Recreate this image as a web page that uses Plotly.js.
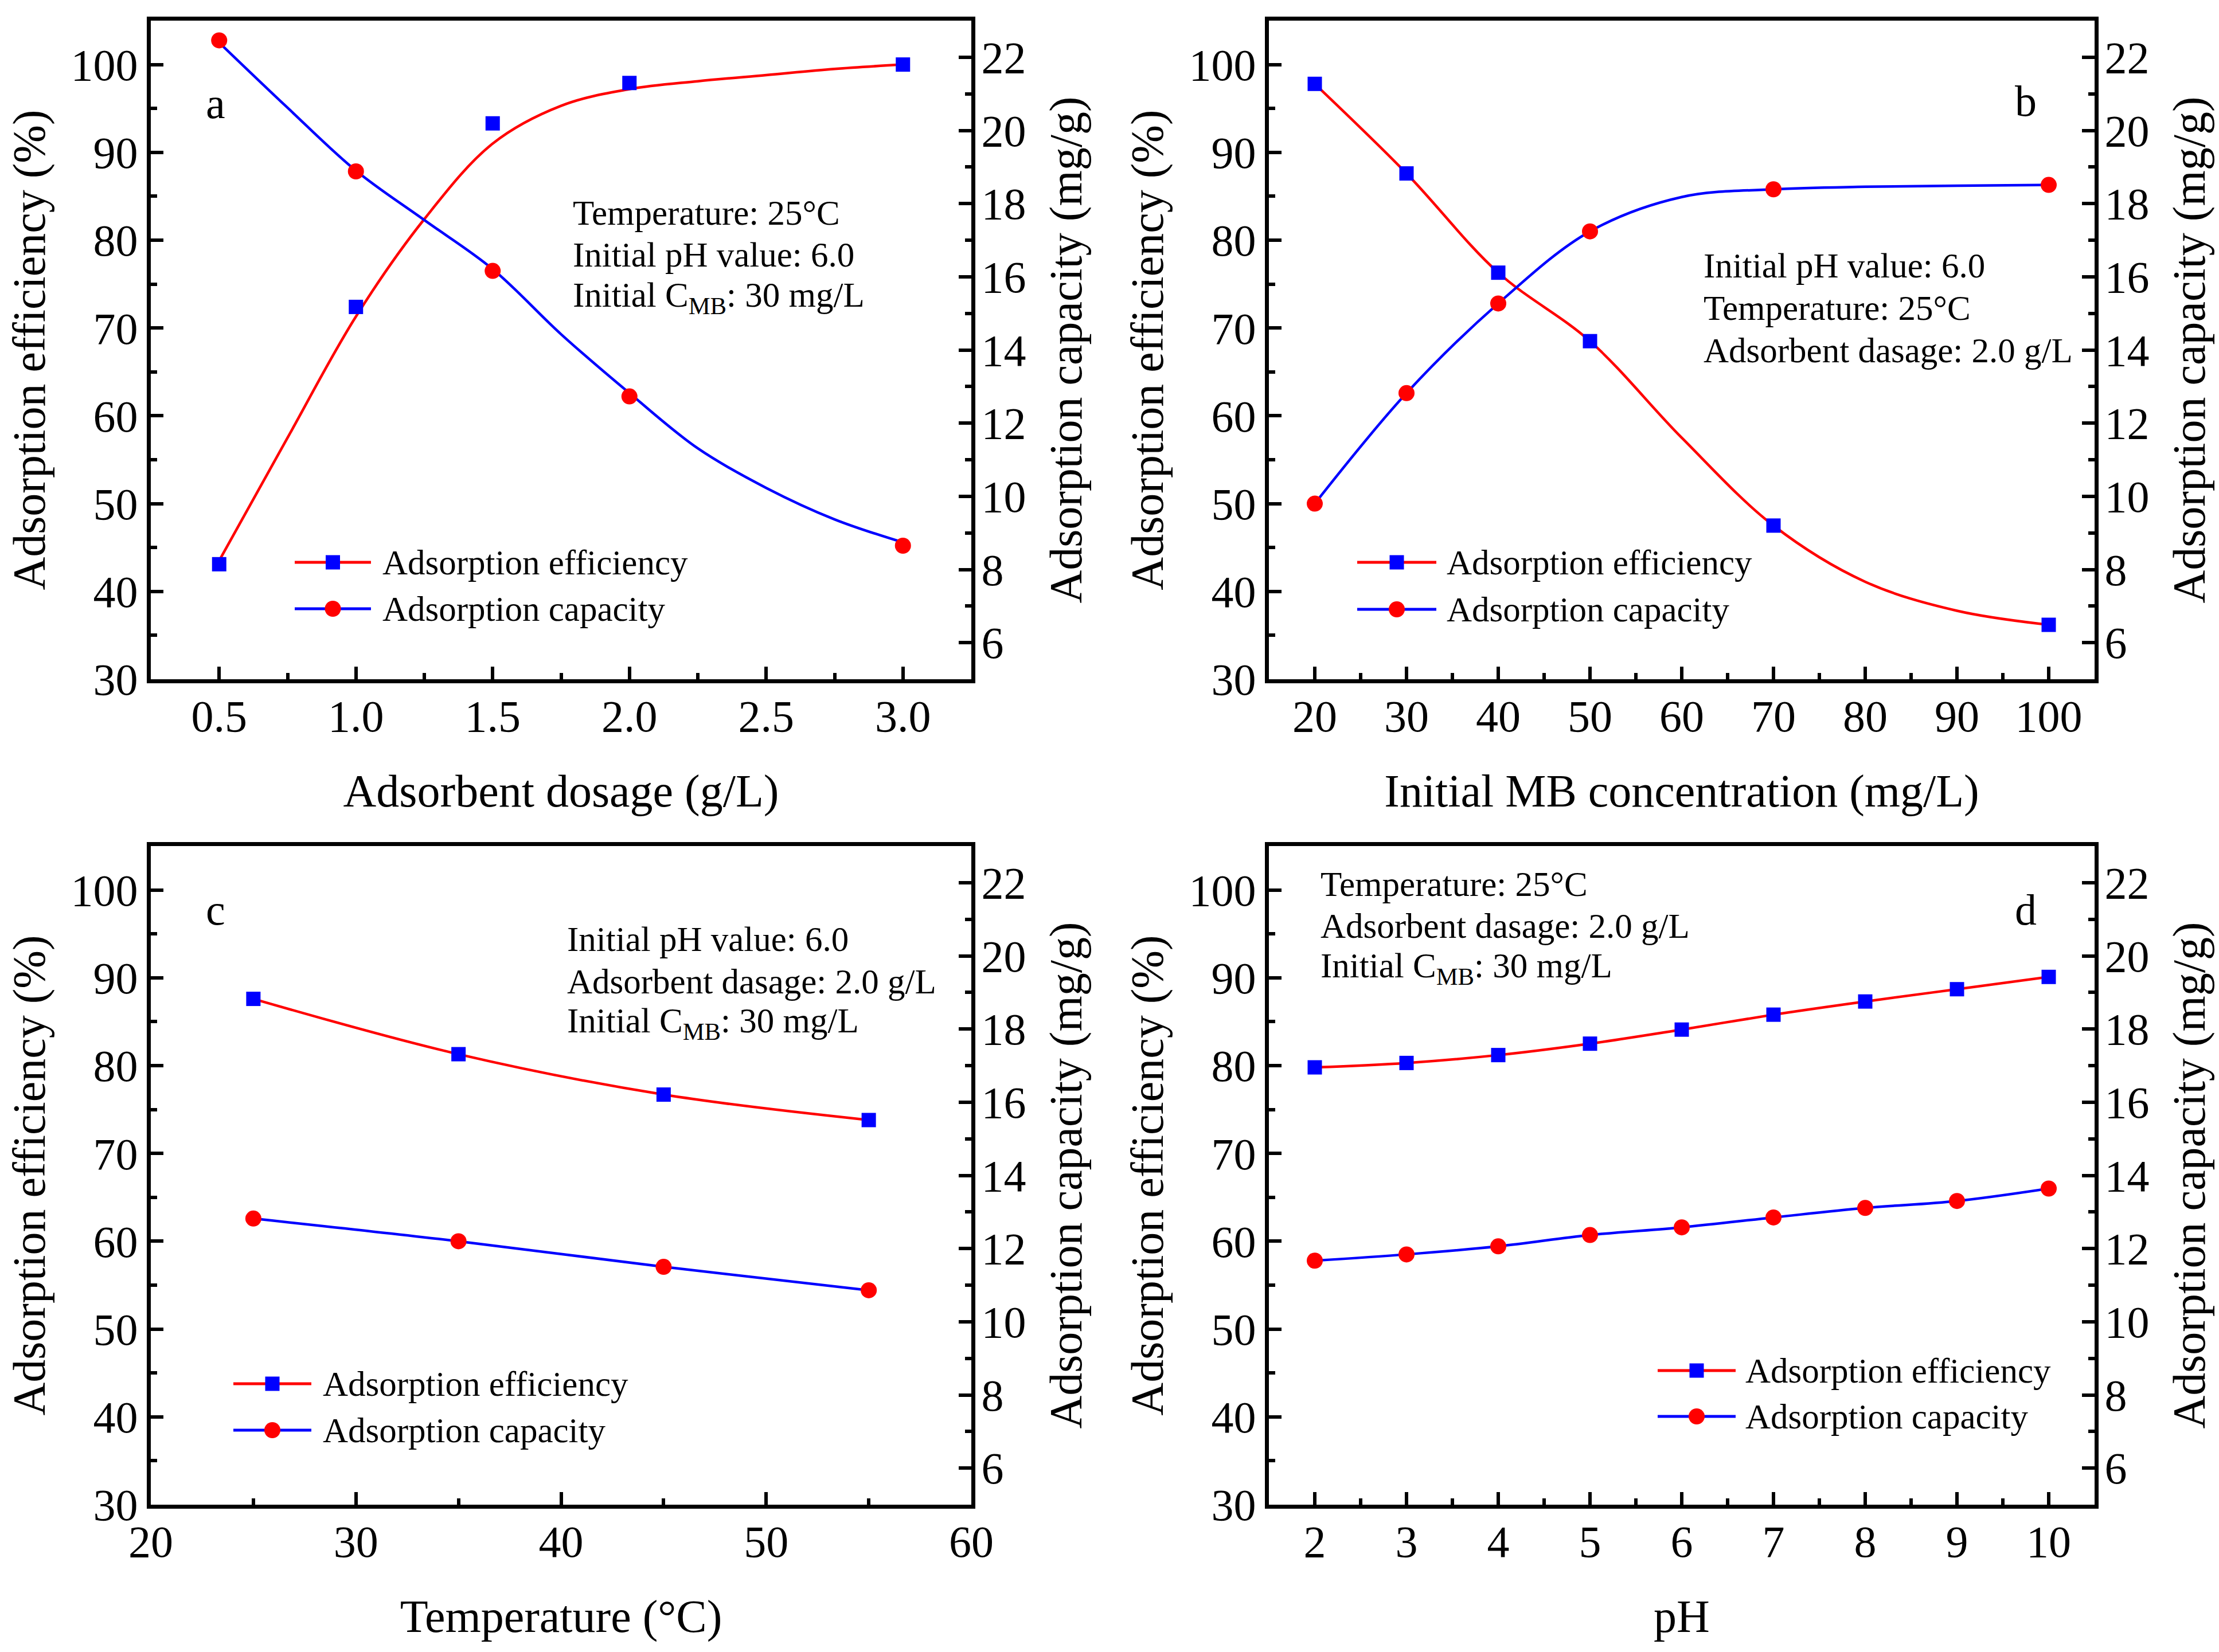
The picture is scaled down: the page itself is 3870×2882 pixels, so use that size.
<!DOCTYPE html>
<html>
<head>
<meta charset="utf-8">
<script src="https://cdn.plot.ly/plotly-3.0.1.min.js"></script>
<style>
  html, body { margin: 0; padding: 0; background: #fff; }
  #plot { width: 3870px; height: 2882px; }
</style>
</head>
<body>
<div id="plot"></div>
<script>
// (a) adsorbent dosage
var dosage = [0.5, 1.0, 1.5, 2.0, 3.0];
var effDosage = [43.1, 72.4, 93.3, 97.9, 100.0];
var capDosage = [22.46, 18.88, 16.16, 12.73, 8.65];
var dosageFitX = [0.5, 0.75, 1.0, 1.25, 1.5, 1.75, 2.0, 2.25, 2.5, 2.75, 3.0];
var effDosageFit = [43.5, 57.5, 71.3, 82.4, 91.0, 95.3, 97.2, 98.1, 98.8, 99.5, 100.0];
var capDosageFit = [22.40, 20.62, 18.90, 17.55, 16.21, 14.43, 12.82, 11.31, 10.23, 9.37, 8.74];

// (b) initial MB concentration
var conc = [20, 30, 40, 50, 70, 100];
var effConc = [97.8, 87.6, 76.3, 68.5, 47.5, 36.2];
var capConc = [9.80, 12.82, 15.27, 17.24, 18.39, 18.51];
var concFitX = [20, 30, 40, 50, 60, 70, 80, 90, 100];
var effConcFit = [97.8, 87.6, 76.3, 68.5, 57.5, 47.5, 41.1, 37.8, 36.2];
var capConcFit = [9.80, 12.82, 15.27, 17.24, 18.18, 18.39, 18.46, 18.49, 18.51];

// (c) temperature
var temp = [25, 35, 45, 55];
var effTemp = [87.6, 81.3, 76.7, 73.8];
var capTemp = [12.82, 12.20, 11.50, 10.86];

// (d) pH
var ph = [2, 3, 4, 5, 6, 7, 8, 9, 10];
var effPh = [79.8, 80.3, 81.2, 82.5, 84.1, 85.8, 87.3, 88.7, 90.1];
var capPh = [11.67, 11.84, 12.06, 12.37, 12.58, 12.85, 13.11, 13.30, 13.64];

var effName = 'Adsorption efficiency';
var capName = 'Adsorption capacity';

var W = 3870, H = 2882;
var FONT = 'Liberation Serif, Times New Roman, serif';
var RED = '#ff0000', BLUE = '#0000ff';

function px(x) { return x / W; }
function py(y) { return 1 - y / H; }

function fitLine(x, y, xa, ya, color) {
  return { x: x, y: y, xaxis: xa, yaxis: ya, mode: 'lines', type: 'scatter',
    line: { color: color, width: 4.5, shape: 'spline', smoothing: 1 }, showlegend: false, hoverinfo: 'skip' };
}
function points(x, y, xa, ya, symbol, color, size) {
  return { x: x, y: y, xaxis: xa, yaxis: ya, mode: 'markers', type: 'scatter',
    marker: { symbol: symbol, color: color, size: size }, showlegend: false };
}
function lineAndPoints(x, y, xa, ya, lineColor, symbol, color, size) {
  return { x: x, y: y, xaxis: xa, yaxis: ya, mode: 'lines+markers', type: 'scatter',
    line: { color: lineColor, width: 4.5, shape: 'spline', smoothing: 1 },
    marker: { symbol: symbol, color: color, size: size }, showlegend: false };
}

var data = [
  fitLine(dosageFitX, effDosageFit, 'x', 'y', RED),
  points(dosage, effDosage, 'x', 'y', 'square', BLUE, 25),
  fitLine(dosageFitX, capDosageFit, 'x', 'y2', BLUE),
  points(dosage, capDosage, 'x', 'y2', 'circle', RED, 28),

  fitLine(concFitX, effConcFit, 'x2', 'y3', RED),
  points(conc, effConc, 'x2', 'y3', 'square', BLUE, 25),
  fitLine(concFitX, capConcFit, 'x2', 'y4', BLUE),
  points(conc, capConc, 'x2', 'y4', 'circle', RED, 28),

  lineAndPoints(temp, effTemp, 'x3', 'y5', RED, 'square', BLUE, 25),
  lineAndPoints(temp, capTemp, 'x3', 'y6', BLUE, 'circle', RED, 28),

  lineAndPoints(ph, effPh, 'x4', 'y7', RED, 'square', BLUE, 25),
  lineAndPoints(ph, capPh, 'x4', 'y8', BLUE, 'circle', RED, 28)
];

function axisBase() {
  return {
    showline: true, linewidth: 7, linecolor: '#000',
    ticks: 'inside', ticklen: 22, tickwidth: 6, tickcolor: '#000',
    showgrid: false, zeroline: false, tickmode: 'linear', tick0: 0,
    tickfont: { family: FONT, size: 78, color: '#000' }
  };
}
function xAxis(domain, anchor, range, dtick, minor, title, fmt) {
  var a = axisBase();
  a.domain = domain; a.anchor = anchor; a.range = range; a.dtick = dtick;
  a.mirror = true;
  a.ticklabelstandoff = -10;
  a.minor = { dtick: minor, ticks: 'inside', ticklen: 11, tickwidth: 6, tickcolor: '#000', showgrid: false };
  a.title = { text: title, font: { family: FONT, size: 80, color: '#000' }, standoff: 62 };
  if (fmt) a.tickformat = fmt;
  return a;
}
function yLeft(domain, anchor) {
  var a = axisBase();
  a.domain = domain; a.anchor = anchor; a.range = [30, 105]; a.dtick = 10;
  a.mirror = true;
  a.ticklabelstandoff = 0;
  a.minor = { dtick: 5, ticks: 'inside', ticklen: 11, tickwidth: 6, tickcolor: '#000', showgrid: false };
  a.title = { text: 'Adsorption efficiency (%)', font: { family: FONT, size: 80, color: '#000' }, standoff: 21 };
  return a;
}
function yRight(domain, anchor, over) {
  var a = axisBase();
  a.domain = domain; a.anchor = anchor; a.overlaying = over; a.side = 'right';
  a.range = [5, 23]; a.dtick = 2;
  a.ticklabelstandoff = -5;
  a.minor = { dtick: 1, ticks: 'inside', ticklen: 11, tickwidth: 6, tickcolor: '#000', showgrid: false };
  a.title = { text: 'Adsorption capacity (mg/g)', font: { family: FONT, size: 80, color: '#000' }, standoff: 44 };
  return a;
}

var colL = [px(263), px(1694)], colR = [px(2213), px(3653)];
var rowT = [py(1185), py(36)], rowB = [py(2625), py(1476)];

var annotations = [];
var shapes = [];

function note(x, y, text, size) {
  annotations.push({ xref: 'paper', yref: 'paper', x: px(x), y: py(y), text: text,
    showarrow: false, xanchor: 'left', yanchor: 'middle',
    font: { family: FONT, size: size, color: '#000' } });
}
function notes(x, ys, lines) {
  for (var i = 0; i < lines.length; i++) note(x, ys[i], lines[i], 61);
}
function letter(x, y, t) {
  annotations.push({ xref: 'paper', yref: 'paper', x: px(x), y: py(y), text: t,
    showarrow: false, xanchor: 'center', yanchor: 'middle',
    font: { family: FONT, size: 76, color: '#000' } });
}
function legendRow(x0, x1, tx, y, lineColor, markColor, kind, size, label) {
  shapes.push({ type: 'line', xref: 'paper', yref: 'paper', x0: px(x0), x1: px(x1), y0: py(y), y1: py(y),
    line: { color: lineColor, width: 5 } });
  var cx = (x0 + x1) / 2, h = size / 2;
  shapes.push({ type: kind, xref: 'paper', yref: 'paper',
    x0: px(cx - h), x1: px(cx + h), y0: py(y + h), y1: py(y - h),
    fillcolor: markColor, line: { width: 0 } });
  note(tx, y, label, 61);
}
function legendBox(x0, x1, tx, y1, y2) {
  legendRow(x0, x1, tx, y1, RED, BLUE, 'rect', 25, effName);
  legendRow(x0, x1, tx, y2, BLUE, RED, 'circle', 28, capName);
}

var tempTxt = 'Temperature: 25\u00b0C';
var phTxt = 'Initial pH value: 6.0';
var cTxt = 'Initial C<sub>MB</sub>: 30 mg/L';
var dosTxt = 'Adsorbent dasage: 2.0 g/L';

notes(997, [372, 445, 519], [tempTxt, phTxt, cTxt]);
notes(2969, [464, 537, 611], [phTxt, tempTxt, dosTxt]);
notes(987, [1638, 1712, 1785], [phTxt, dosTxt, cTxt]);
notes(2301, [1542, 1615, 1689], [tempTxt, dosTxt, cTxt]);

letter(376, 180, 'a');
letter(3533, 176, 'b');
letter(376, 1587, 'c');
letter(3533, 1587, 'd');

legendBox(514, 647, 665, 981, 1062);
legendBox(2367, 2505, 2521, 981, 1063);
legendBox(407, 543, 561, 2414, 2495);
legendBox(2891, 3027, 3042, 2391, 2471);

var layout = {
  width: W, height: H,
  margin: { l: 0, r: 0, t: 0, b: 0 },
  paper_bgcolor: '#fff', plot_bgcolor: 'rgba(0,0,0,0)',
  showlegend: false,
  font: { family: FONT, color: '#000' },
  xaxis: xAxis(colL, 'y', [0.25, 3.25], 0.5, 0.25, 'Adsorbent dosage (g/L)', '.1f'),
  xaxis2: xAxis(colR, 'y3', [15, 105], 10, 5, 'Initial MB concentration (mg/L)'),
  xaxis3: xAxis(colL, 'y5', [20, 60], 10, 5, 'Temperature (\u00b0C)'),
  xaxis4: xAxis(colR, 'y7', [1.5, 10.5], 1, 0.5, 'pH'),
  yaxis: yLeft(rowT, 'x'),
  yaxis2: yRight(rowT, 'x', 'y'),
  yaxis3: yLeft(rowT, 'x2'),
  yaxis4: yRight(rowT, 'x2', 'y3'),
  yaxis5: yLeft(rowB, 'x3'),
  yaxis6: yRight(rowB, 'x3', 'y5'),
  yaxis7: yLeft(rowB, 'x4'),
  yaxis8: yRight(rowB, 'x4', 'y7'),
  annotations: annotations,
  shapes: shapes
};

Plotly.newPlot('plot', data, layout, { displayModeBar: false, staticPlot: true });
</script>
</body>
</html>
